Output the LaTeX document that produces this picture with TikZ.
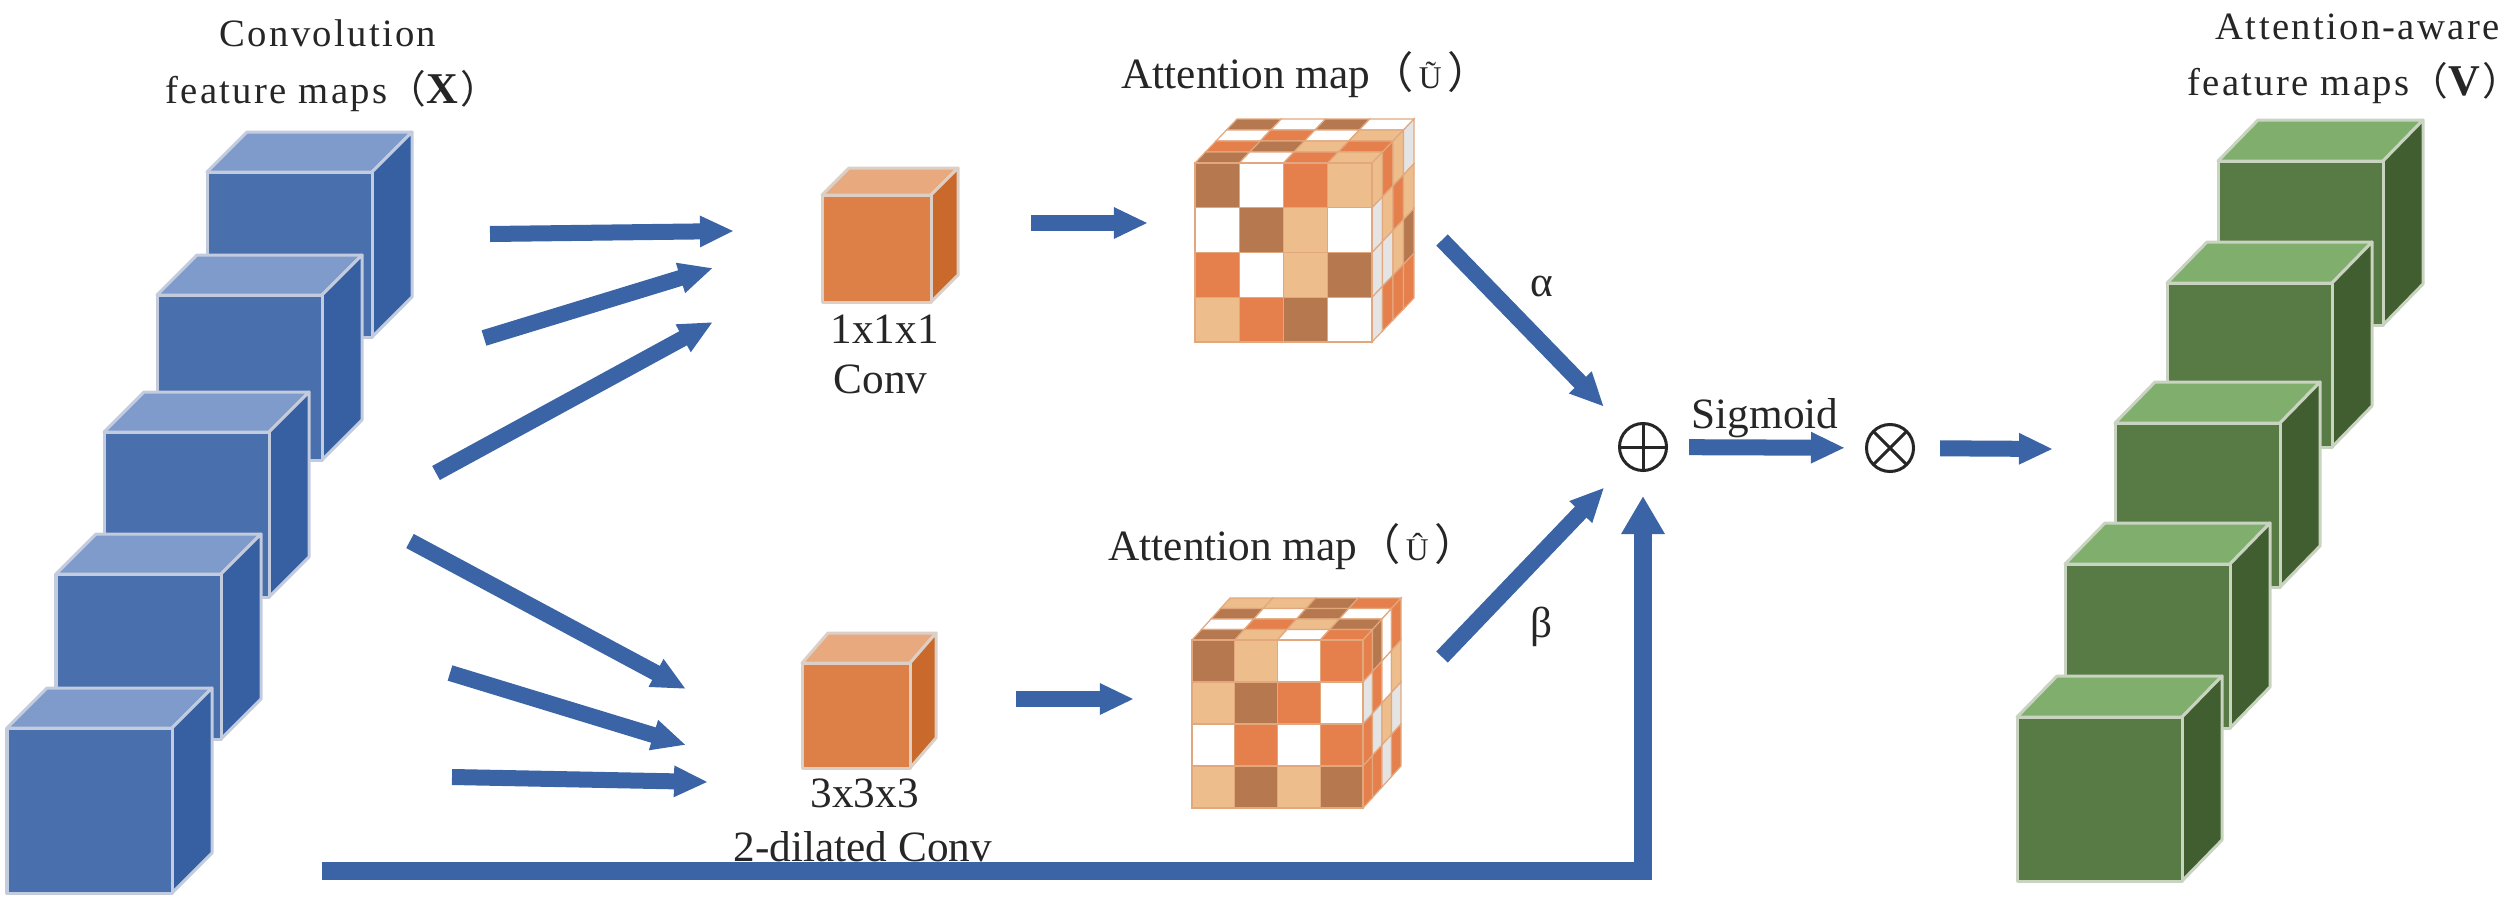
\documentclass[tikz,border=0pt]{standalone}
\usepackage{fontspec}
\usepackage{tikz}
\usetikzlibrary{arrows.meta}

\setmainfont{Liberation Serif}
\newfontfamily\cjk{Noto Sans CJK SC}
\newfontfamily\widefont[LetterSpace=6]{Liberation Serif}

\definecolor{flowblue}{HTML}{3A64A5}
\definecolor{inkgrey}{HTML}{262626}
\definecolor{bluefront}{HTML}{4A6FAD}
\definecolor{bluetop}{HTML}{7F9BCB}
\definecolor{blueside}{HTML}{3660A2}
\definecolor{blueedge}{HTML}{C3CCDE}
\definecolor{greenfront}{HTML}{587A45}
\definecolor{greentop}{HTML}{80AE6D}
\definecolor{greenside}{HTML}{415E30}
\definecolor{greenedge}{HTML}{C8D3C0}
\definecolor{orangefront}{HTML}{DD8047}
\definecolor{orangetop}{HTML}{E8A97E}
\definecolor{orangeside}{HTML}{C96A2C}
\definecolor{orangeedge}{HTML}{DCD0C6}
\definecolor{cellbrown}{HTML}{B5784F}
\definecolor{celltan}{HTML}{EDBE8C}
\definecolor{cellorange}{HTML}{E57F4B}
\definecolor{cellgrey}{HTML}{E4E4E4}
\definecolor{cellline}{HTML}{E3A77E}

\tikzset{
  flow/.style={draw=flowblue, line width=0.16cm, -{Triangle[length=0.34cm, width=0.29cm]}},
  plaintext/.style={anchor=base west, inner sep=0pt, text=inkgrey, font=\fontsize{12.3}{14}\selectfont},
  widetext/.style={anchor=base west, inner sep=0pt, text=inkgrey, font=\fontsize{11}{13}\widefont},
  opcircle/.style={circle, draw=black!85, line width=0.03cm, minimum size=0.47cm, inner sep=0pt},
}

% #1 prefix of the colours, #2 #3 top left of the front, #4 #5 size, #6 #7 depth
\newcommand{\solidcube}[7]{
  \draw [#1edge, line width=0.03cm, line join=round, fill=#1top]
    (#2, #3) -- ++(#6, #7) -- ++(#4, 0) -- ++(-#6, -#7) -- cycle;
  \draw [#1edge, line width=0.03cm, line join=round, fill=#1side]
    (#2+#4, #3) -- ++(#6, #7) -- ++(0, #5) -- ++(-#6, -#7) -- cycle;
  \draw [#1edge, line width=0.03cm, line join=round, fill=#1front]
    (#2, #3) rectangle ++(#4, #5);
}

% One 4x4 face of a checker cube: origin, first vector, second vector, colours.
\newcommand{\cellface}[7]{
  \foreach \cell [count=\n from 0] in {#7} {
    \pgfmathsetmacro{\pa}{mod(\n, 4)/4}
    \pgfmathsetmacro{\pb}{floor(\n/4)/4}
    \fill [\cell, draw=cellline, line width=0.012cm]
      (#1+\pa*#3+\pb*#5, #2+\pa*#4+\pb*#6)
      -- ++(#3/4, #4/4) -- ++(#5/4, #6/4) -- ++(-#3/4, -#4/4) -- cycle;
  }
}

% The letter inside the wide brackets of the attention maps.
\newcommand{\mapletter}[1]{{\cjk （}\hspace{1.5pt}{\fontsize{9}{10}\selectfont #1}\hspace{1.5pt}{\cjk ）}}
\newcommand{\titleletter}[1]{{\cjk （}{\fontsize{12.5}{13}\selectfont\textbf{#1}}{\cjk ）}}

\begin{document}
\begin{tikzpicture}[x=0.01cm, y=-0.01cm]
  \useasboundingbox (0, 0) rectangle (2512, 906);

  % Convolution feature maps.
  \foreach \x/\y in {207/172, 157/295, 104/432, 56/574, 7/728} {
    \solidcube{blue}{\x}{\y}{165}{165}{40}{-40}
  }

  % Attention-aware feature maps.
  \foreach \x/\y in {2218/161, 2167/283, 2115/423, 2065/564, 2017/717} {
    \solidcube{green}{\x}{\y}{165}{164}{40}{-41}
  }

  % Convolution blocks.
  \solidcube{orange}{822}{195}{109}{107}{27}{-27}
  \solidcube{orange}{802}{663}{108}{105}{26}{-30}

  % Upper attention map.
  \cellface{1237}{119}{177}{0}{-42}{44}{cellbrown, white, cellbrown, white,
    white, cellorange, white, celltan,
    cellorange, cellbrown, celltan, cellorange,
    cellbrown, white, cellorange, celltan}
  \cellface{1372}{163}{42}{-44}{0}{179}{celltan, cellorange, celltan, cellgrey,
    cellgrey, celltan, cellorange, celltan,
    cellgrey, cellgrey, celltan, cellbrown,
    cellgrey, cellorange, cellorange, cellorange}
  \cellface{1195}{163}{177}{0}{0}{179}{cellbrown, white, cellorange, celltan,
    white, cellbrown, celltan, white,
    cellorange, white, celltan, cellbrown,
    celltan, cellorange, cellbrown, white}

  % Lower attention map.
  \cellface{1230}{598}{171}{0}{-38}{42}{celltan, celltan, cellbrown, cellorange,
    cellbrown, white, cellbrown, white,
    white, cellorange, celltan, cellbrown,
    cellbrown, celltan, white, cellorange}
  \cellface{1363}{640}{38}{-42}{0}{168}{cellorange, cellbrown, white, cellorange,
    cellgrey, cellorange, white, celltan,
    cellorange, cellgrey, celltan, cellgrey,
    cellorange, cellorange, cellgrey, cellorange}
  \cellface{1192}{640}{171}{0}{0}{168}{cellbrown, celltan, white, cellorange,
    celltan, cellbrown, cellorange, white,
    white, cellorange, white, cellorange,
    celltan, cellbrown, celltan, cellbrown}

  % Labels.
  \node [widetext] (convtitle) at (219, 47) {Convolution};
  \node [widetext] (xtitle) at (165, 103) {feature maps\titleletter{X}};
  \node [widetext] (awaretitle) at (2215, 39) {Attention-aware};
  \node [widetext] (vtitle) at (2187, 95) {feature maps\titleletter{V}};
  \node [plaintext] (utilde) at (1121, 88) {Attention map\mapletter{Ũ}};
  \node [plaintext] (uhat) at (1108, 560) {Attention map\mapletter{Û}};
  \node [plaintext] (onelabel) at (830, 343) {1x1x1};
  \node [plaintext] (convlabel) at (833, 393) {Conv};
  \node [plaintext] (threelabel) at (810, 807) {3x3x3};
  \node [plaintext] (dilatedlabel) at (733, 861) {2-dilated Conv};
  \node [plaintext] (sigmoid) at (1691, 428) {Sigmoid};
  \node [plaintext] (alpha) at (1530, 296) {α};
  \node [plaintext] (beta) at (1530, 637) {β};

  % Operators.
  \node [opcircle, path picture={
    \draw [black!85, line width=0.03cm] (path picture bounding box.north) -- (path picture bounding box.south);
    \draw [black!85, line width=0.03cm] (path picture bounding box.west) -- (path picture bounding box.east);
  }] (oplus) at (1643, 447) {};
  \node [opcircle, path picture={
    \draw [black!85, line width=0.03cm] (path picture bounding box.north west) -- (path picture bounding box.south east);
    \draw [black!85, line width=0.03cm] (path picture bounding box.south west) -- (path picture bounding box.north east);
  }] (otimes) at (1890, 448) {};

  % Free ends of the arrows.
  \coordinate (upa) at (490, 234);
  \coordinate (upb) at (484, 338);
  \coordinate (upc) at (436, 473);
  \coordinate (lowa) at (410, 541);
  \coordinate (lowb) at (450, 673);
  \coordinate (lowc) at (452, 777);
  \coordinate (upinto) at (734, 231);
  \coordinate (upintob) at (713, 268);
  \coordinate (upintoc) at (713, 322);
  \coordinate (lowinto) at (686, 689);
  \coordinate (lowintob) at (686, 745);
  \coordinate (lowintoc) at (708, 782);
  \coordinate (upmapin) at (1031, 223);
  \coordinate (upmapout) at (1148, 223);
  \coordinate (lowmapin) at (1016, 699);
  \coordinate (lowmapout) at (1134, 699);
  \coordinate (alphastart) at (1442, 240);
  \coordinate (betastart) at (1442, 657);
  \coordinate (skipstart) at (322, 871);
  \coordinate (outend) at (2053, 449);

  % Arrows.
  \foreach \from/\to in {upa/upinto, upb/upintob, upc/upintoc, lowa/lowinto,
      lowb/lowintob, lowc/lowintoc, upmapin/upmapout, lowmapin/lowmapout}
    \draw [flow] (\from) -- (\to);
  \draw [flow, shorten >=0.31cm] (alphastart) -- (oplus);
  \draw [flow, shorten >=0.31cm] (betastart) -- (oplus);
  \draw [flow, shorten >=0.24cm, line width=0.18cm, -{Triangle[length=0.38cm, width=0.41cm]}] (skipstart) -| (oplus);
  \draw [flow, shorten <=0.21cm, shorten >=0.20cm] (oplus) -- (otimes);
  \draw [flow, shorten <=0.25cm] (otimes) -- (outend);
\end{tikzpicture}
\end{document}
